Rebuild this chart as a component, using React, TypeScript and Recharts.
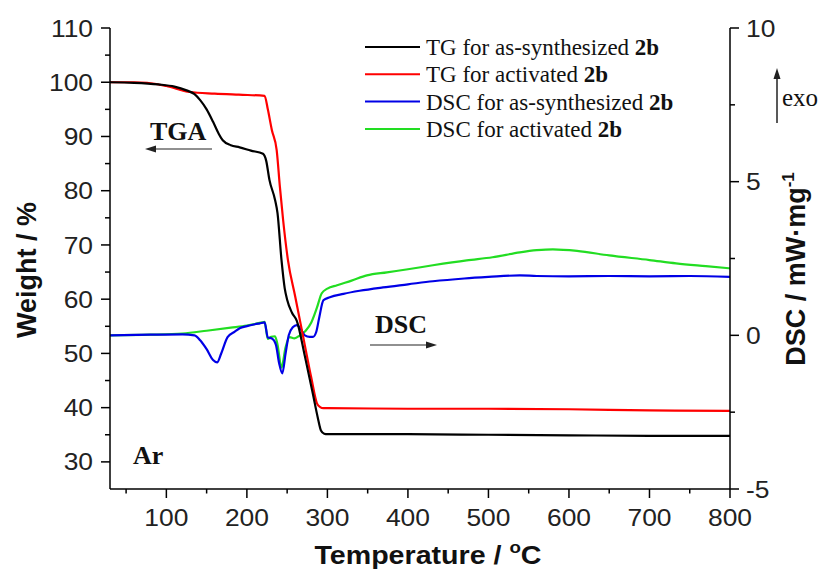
import React from 'react';
import { LineChart, Line, XAxis, YAxis } from 'recharts';

// TG for as-synthesized 2b (black) — temperature (°C) / weight (%)
const tgAsTemp = [30, 60, 90, 110, 125, 135, 142, 150, 158, 165, 170, 180, 191, 205, 220, 224, 228, 235, 238, 243, 247, 250, 256, 262, 272, 282, 288, 292, 296, 300, 400, 500, 600, 700, 800];
const tgAsWeight = [100, 99.9, 99.6, 99.2, 98.5, 97.8, 96.7, 95, 92.7, 90.5, 89.3, 88.4, 88, 87.4, 86.8, 85.5, 82, 78.3, 75.9, 67.2, 62, 59.9, 57.5, 56, 49.5, 42.5, 38.2, 35.8, 35.2, 35.1, 35.1, 35.0, 34.9, 34.8, 34.8];

// TG for activated 2b (red)
const tgActTemp = [30, 60, 76, 100, 129, 160, 190, 222, 226, 231, 237, 241, 245, 251, 260, 270, 280, 287, 291, 295, 300, 400, 500, 600, 700, 800];
const tgActWeight = [100, 100, 99.9, 99.3, 98.2, 97.9, 97.7, 97.5, 95, 91.2, 87.5, 80.7, 74.6, 67.2, 60.5, 53, 45.5, 40.8, 40.1, 39.9, 39.9, 39.8, 39.8, 39.7, 39.5, 39.4];

// DSC for as-synthesized 2b (blue) — mW/mg
const dscAsTemp = [30, 80, 120, 135, 142, 150, 158, 163, 168, 176, 185, 191, 200, 210, 216, 222, 226, 231, 236, 240, 244, 248, 252, 257, 262, 267, 272, 278, 282, 286, 290, 295, 303, 320, 340, 369, 400, 431, 470, 500, 539, 560, 600, 650, 700, 750, 800];
const dscAsValue = [0, 0.02, 0.03, 0.0, -0.16, -0.45, -0.8, -0.88, -0.6, -0.06, 0.12, 0.23, 0.3, 0.36, 0.39, 0.42, -0.07, -0.1, -0.3, -0.9, -1.24, -0.6, 0.0, 0.26, 0.33, 0.2, 0.0, -0.05, -0.05, 0.1, 0.6, 1.14, 1.24, 1.35, 1.45, 1.56, 1.66, 1.76, 1.85, 1.9, 1.95, 1.93, 1.92, 1.93, 1.92, 1.93, 1.9];

// DSC for activated 2b (green)
const dscActTemp = [30, 80, 120, 150, 180, 200, 219, 222, 226, 230, 235, 238, 243, 248, 253, 259, 266, 273, 280, 287, 293, 300, 312, 330, 349, 374, 400, 431, 473, 505, 539, 560, 580, 610, 650, 700, 733, 770, 800];
const dscActValue = [0, 0.02, 0.06, 0.15, 0.25, 0.32, 0.42, 0.44, -0.12, -0.05, -0.03, -0.3, -1.05, -0.4, -0.06, -0.1, 0.0, 0.15, 0.42, 0.9, 1.37, 1.52, 1.63, 1.78, 1.95, 2.05, 2.15, 2.28, 2.44, 2.54, 2.7, 2.77, 2.8, 2.75, 2.6, 2.45, 2.34, 2.25, 2.18];

const tempTicks = [50, 100, 150, 200, 250, 300, 350, 400, 450, 500, 550, 600, 650, 700, 750, 800];
const weightTicks = [30, 35, 40, 45, 50, 55, 60, 65, 70, 75, 80, 85, 90, 95, 100, 105, 110];
const dscTicks = [-5, -2.5, 0, 2.5, 5, 7.5, 10];

const legendLabels = ['TG for as-synthesized ', 'TG for activated ', 'DSC for as-synthesized ', 'DSC for activated '];
const seriesColors = ['#000000', '#ff0000', '#0000e6', '#22dd22'];

const zip = (t: number[], v: number[]) => t.map((x, i) => ({ t: x, v: v[i] }));
const tgAs = zip(tgAsTemp, tgAsWeight);
const tgAct = zip(tgActTemp, tgActWeight);
const dscAs = zip(dscAsTemp, dscAsValue);
const dscAct = zip(dscActTemp, dscActValue);

const SANS = '"Liberation Sans", Arial, sans-serif';
const SERIF = '"Liberation Serif", "Times New Roman", serif';

function BottomTick(props: any) {
  const { x, y, payload } = props;
  const major = payload.value % 100 === 0;
  return (
    <g>
      <line x1={x} x2={x} y1={y} y2={y + (major ? 9 : 4.5)} stroke="#000" strokeWidth={1.5} />
      {major && (
        <text transform={`translate(${x},${y + 37}) scale(1.1,1)`} textAnchor="middle" fontFamily={SANS} fontSize={24} fill="#222">
          {payload.value}
        </text>
      )}
    </g>
  );
}

function LeftTick(props: any) {
  const { x, y, payload } = props;
  const major = payload.value % 10 === 0;
  return (
    <g>
      <line x1={x} x2={x - (major ? 9 : 5)} y1={y} y2={y} stroke="#000" strokeWidth={1.5} />
      {major && (
        <text transform={`translate(${x - 17},${y + 8.6}) scale(1.1,1)`} textAnchor="end" fontFamily={SANS} fontSize={24} fill="#222">
          {payload.value}
        </text>
      )}
    </g>
  );
}

function RightTick(props: any) {
  const { x, y, payload } = props;
  const major = payload.value % 5 === 0;
  return (
    <g>
      <line x1={x} x2={x + (major ? 9 : 5)} y1={y} y2={y} stroke="#000" strokeWidth={1.5} />
      {major && (
        <text transform={`translate(${x + 16},${y + 8.6}) scale(1.1,1)`} textAnchor="start" fontFamily={SANS} fontSize={24} fill="#222">
          {payload.value}
        </text>
      )}
    </g>
  );
}

export default function App() {
  const axisLine = { stroke: '#000', strokeWidth: 1.5 };
  return (
    <div style={{ position: 'absolute', left: 0, top: 0, width: 825, height: 581, background: '#fff' }}>
      <LineChart width={825} height={581} margin={{ top: 28, right: 35, bottom: 52, left: 50 }}>
        <XAxis
          xAxisId="main"
          type="number"
          dataKey="t"
          domain={[30, 800]}
          allowDataOverflow
          ticks={tempTicks}
          interval={0}
          tickSize={0}
          tickMargin={0}
          tickLine={false}
          tick={<BottomTick />}
          axisLine={axisLine}
          height={40}
        />
        <XAxis
          xAxisId="top"
          orientation="top"
          type="number"
          dataKey="t"
          domain={[30, 800]}
          allowDataOverflow
          tick={false}
          tickLine={false}
          axisLine={axisLine}
          height={0}
        />
        <YAxis
          yAxisId="w"
          type="number"
          domain={[25, 110]}
          allowDataOverflow
          ticks={weightTicks}
          interval={0}
          tickSize={0}
          tickMargin={0}
          tickLine={false}
          tick={<LeftTick />}
          axisLine={axisLine}
          width={60}
        />
        <YAxis
          yAxisId="d"
          orientation="right"
          type="number"
          domain={[-5, 10]}
          allowDataOverflow
          ticks={dscTicks}
          interval={0}
          tickSize={0}
          tickMargin={0}
          tickLine={false}
          tick={<RightTick />}
          axisLine={axisLine}
          width={60}
        />
        <Line xAxisId="main" yAxisId="d" data={dscAct} dataKey="v" type="monotone" stroke={seriesColors[3]} strokeWidth={2.2} dot={false} isAnimationActive={false} />
        <Line xAxisId="main" yAxisId="d" data={dscAs} dataKey="v" type="monotone" stroke={seriesColors[2]} strokeWidth={2.2} dot={false} isAnimationActive={false} />
        <Line xAxisId="main" yAxisId="w" data={tgAct} dataKey="v" type="monotone" stroke={seriesColors[1]} strokeWidth={2.2} dot={false} isAnimationActive={false} />
        <Line xAxisId="main" yAxisId="w" data={tgAs} dataKey="v" type="monotone" stroke={seriesColors[0]} strokeWidth={2.2} dot={false} isAnimationActive={false} />
      </LineChart>
      <svg width={825} height={581} style={{ position: 'absolute', left: 0, top: 0, pointerEvents: 'none' }}>
        {/* Legend */}
        {legendLabels.map((lab, i) => (
          <g key={i}>
            <line x1={365} x2={420} y1={47 + i * 27.3} y2={47 + i * 27.3} stroke={seriesColors[i]} strokeWidth={2} />
            <text x={426} y={55 + i * 27.3} fontFamily={SERIF} fontSize={23} fill="#111">
              {lab}
              <tspan fontWeight="bold">2b</tspan>
            </text>
          </g>
        ))}
        {/* Axis titles */}
        <text x={36} y={270} transform="rotate(-90 36 270)" textAnchor="middle" fontFamily={SANS} fontWeight="bold" fontSize={27} fill="#111">
          Weight / %
        </text>
        <text x={805} y={269} transform="rotate(-90 805 269)" textAnchor="middle" fontFamily={SANS} fontWeight="bold" fontSize={27} fill="#111">
          DSC / mW·mg<tspan dy={-11} fontSize={17}>-1</tspan>
        </text>
        <text transform="translate(428,564) scale(1.1,1)" textAnchor="middle" fontFamily={SANS} fontWeight="bold" fontSize={26} fill="#111">
          Temperature / <tspan dy={-11} fontSize={17}>o</tspan><tspan dy={11}>C</tspan>
        </text>
        {/* Annotations */}
        <text x={150} y={140} fontFamily={SERIF} fontWeight="bold" fontSize={26} fill="#111">TGA</text>
        <line x1={212} x2={152} y1={149} y2={149} stroke="#222" strokeWidth={1.2} />
        <polygon points="145,149 156,145.5 156,152.5" fill="#222" />
        <text x={375} y={333} fontFamily={SERIF} fontWeight="bold" fontSize={26} fill="#111">DSC</text>
        <line x1={370} x2={430} y1={345} y2={345} stroke="#222" strokeWidth={1.2} />
        <polygon points="437,345 426,341.5 426,348.5" fill="#222" />
        <text x={133} y={464} fontFamily={SERIF} fontWeight="bold" fontSize={26} fill="#111">Ar</text>
        <line x1={777} x2={777} y1={123} y2={75} stroke="#222" strokeWidth={1.5} />
        <polygon points="777,68 773.5,79 780.5,79" fill="#222" />
        <text x={782} y={106} fontFamily={SERIF} fontSize={25} fill="#111">exo</text>
      </svg>
    </div>
  );
}
